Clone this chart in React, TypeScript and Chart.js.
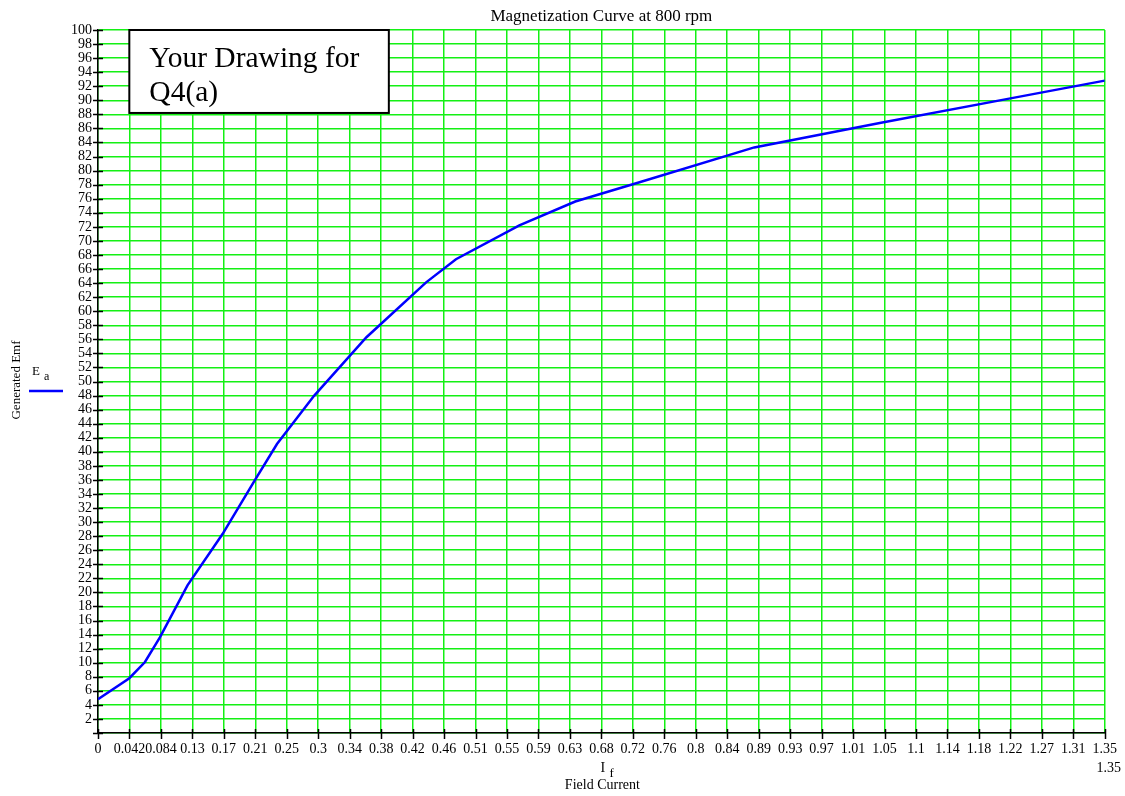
import React, { useEffect, useRef } from "react";
import { Chart, registerables } from "chart.js";

Chart.register(...registerables);

const X_MAX = 1.35;
const xTickLabels = [
  "0", "0.042", "0.084", "0.13", "0.17", "0.21", "0.25", "0.3", "0.34", "0.38", "0.42",
  "0.46", "0.51", "0.55", "0.59", "0.63", "0.68", "0.72", "0.76", "0.8", "0.84", "0.89",
  "0.93", "0.97", "1.01", "1.05", "1.1", "1.14", "1.18", "1.22", "1.27", "1.31", "1.35",
];
const fieldCurrent = [0, 0.042, 0.063, 0.083, 0.12, 0.167, 0.21, 0.24, 0.29, 0.36, 0.44, 0.48, 0.565, 0.64, 0.725, 0.88, 1.05, 1.22, 1.35];
const generatedEmf = [4.8, 7.8, 10.1, 13.6, 21, 28.3, 35.9, 41.1, 48, 56.3, 64.1, 67.4, 72.2, 75.6, 78.3, 83.3, 86.8, 90.2, 92.8];

const SERIF = "'Liberation Serif', 'DejaVu Serif', serif";
const GRID = "rgb(20,240,20)";
const BLUE = "#0000ff";

const tickMarkPlugin = {
  id: "tickMarks",
  afterDatasetsDraw(chart: any) {
    const { ctx, scales } = chart;
    const x = scales.x;
    const y = scales.y;
    const ax = x.getPixelForValue(0);
    const ay = y.getPixelForValue(0);
    ctx.save();
    ctx.strokeStyle = "#000";
    ctx.lineWidth = 1.5;
    ctx.beginPath();
    y.ticks.forEach((t: any) => {
      const py = Math.round(y.getPixelForValue(t.value)) + 0.5;
      ctx.moveTo(ax - 5, py);
      ctx.lineTo(ax + 5, py);
    });
    x.ticks.forEach((t: any) => {
      const px = Math.round(x.getPixelForValue(t.value)) + 0.5;
      ctx.moveTo(px, ay - 4);
      ctx.lineTo(px, ay + 6);
    });
    ctx.stroke();
    ctx.restore();
  },
};

const decorPlugin = {
  id: "decor",
  afterDraw(chart: any) {
    const { ctx, chartArea, scales } = chart;
    const x = scales.x;
    const y = scales.y;
    ctx.save();
    ctx.fillStyle = "#000";
    // title
    ctx.font = `17px ${SERIF}`;
    ctx.textAlign = "center";
    ctx.textBaseline = "alphabetic";
    ctx.fillText("Magnetization Curve at 800 rpm", (chartArea.left + chartArea.right) / 2, 21);

    // note box
    const bl = x.getPixelForValue(0.042);
    const bt = y.getPixelForValue(100);
    const br = x.getPixelForValue(0.39);
    const bb = y.getPixelForValue(88.2);
    ctx.fillStyle = "#fff";
    ctx.fillRect(bl, bt, br - bl, bb - bt);
    ctx.strokeStyle = "#000";
    ctx.lineWidth = 2;
    ctx.strokeRect(bl, bt, br - bl, bb - bt);
    ctx.fillStyle = "#000";
    ctx.font = `29.5px ${SERIF}`;
    ctx.textAlign = "left";
    ctx.fillText("Your Drawing for", bl + 20, bt + 37);
    ctx.fillText("Q4(a)", bl + 20, bt + 71);

    // y-axis title
    ctx.save();
    ctx.translate(20, 380);
    ctx.rotate(-Math.PI / 2);
    ctx.font = `13px ${SERIF}`;
    ctx.textAlign = "center";
    ctx.fillText("Generated Emf", 0, 0);
    ctx.restore();

    // legend
    ctx.font = `13px ${SERIF}`;
    ctx.textAlign = "left";
    ctx.fillText("E", 32, 375);
    ctx.font = `12px ${SERIF}`;
    ctx.fillText("a", 44, 380);
    ctx.strokeStyle = BLUE;
    ctx.lineWidth = 2.5;
    ctx.beginPath();
    ctx.moveTo(29, 391);
    ctx.lineTo(63, 391);
    ctx.stroke();

    // x-axis title
    const cx = (chartArea.left + chartArea.right) / 2;
    ctx.font = `14px ${SERIF}`;
    ctx.textAlign = "left";
    ctx.fillText("I", cx - 1, 772);
    ctx.font = `13px ${SERIF}`;
    ctx.fillText("f", cx + 8, 777);
    ctx.font = `14px ${SERIF}`;
    ctx.textAlign = "center";
    ctx.fillText("Field Current", cx + 1, 789);
    ctx.textAlign = "right";
    ctx.fillText(String(X_MAX), 1121, 772);
    ctx.restore();
  },
};

export default function App() {
  const ref = useRef<HTMLCanvasElement | null>(null);
  useEffect(() => {
    if (!ref.current) return;
    const chart = new Chart(ref.current, {
      type: "line",
      data: {
        datasets: [
          {
            label: "Ea",
            data: fieldCurrent.map((v, i) => ({ x: v, y: generatedEmf[i] })),
            borderColor: BLUE,
            backgroundColor: BLUE,
            borderWidth: 2.5,
            pointRadius: 0,
            tension: 0,
          },
        ],
      },
      options: {
        animation: false,
        responsive: false,
        layout: { padding: { top: 30, right: 19, left: 0, bottom: 0 } },
        plugins: {
          legend: { display: false },
          title: { display: false },
          tooltip: { enabled: false },
        },
        scales: {
          x: {
            type: "linear",
            min: 0,
            max: X_MAX,
            afterBuildTicks: (scale: any) => {
              scale.ticks = xTickLabels.map((_, i) => ({ value: (i * X_MAX) / (xTickLabels.length - 1) }));
            },
            afterFit: (scale: any) => {
              scale.height = 63;
            },
            grid: { color: GRID, lineWidth: 1.5, drawTicks: false },
            border: { color: "#000", width: 1.5 },
            ticks: {
              autoSkip: false,
              maxRotation: 0,
              minRotation: 0,
              padding: 8,
              color: "#000",
              font: { family: SERIF, size: 14 },
              callback: (_v: any, i: number) => xTickLabels[i],
            },
          },
          y: {
            type: "linear",
            min: 0,
            max: 100,
            afterFit: (scale: any) => {
              scale.width = 98;
            },
            grid: { color: GRID, lineWidth: 1.5, drawTicks: false },
            border: { color: "#000", width: 1.5 },
            ticks: {
              stepSize: 2,
              autoSkip: false,
              padding: 6,
              color: "#000",
              font: { family: SERIF, size: 14 },
              callback: (v: any) => (v === 0 ? "" : String(v)),
            },
          },
        },
      },
      plugins: [tickMarkPlugin, decorPlugin],
    });
    return () => chart.destroy();
  }, []);
  return (
    <div style={{ position: "absolute", left: 0, top: 0, width: 1125, height: 796, background: "#fff" }}>
      <canvas ref={ref} width={1125} height={796} style={{ display: "block", width: 1125, height: 796 }} />
    </div>
  );
}
